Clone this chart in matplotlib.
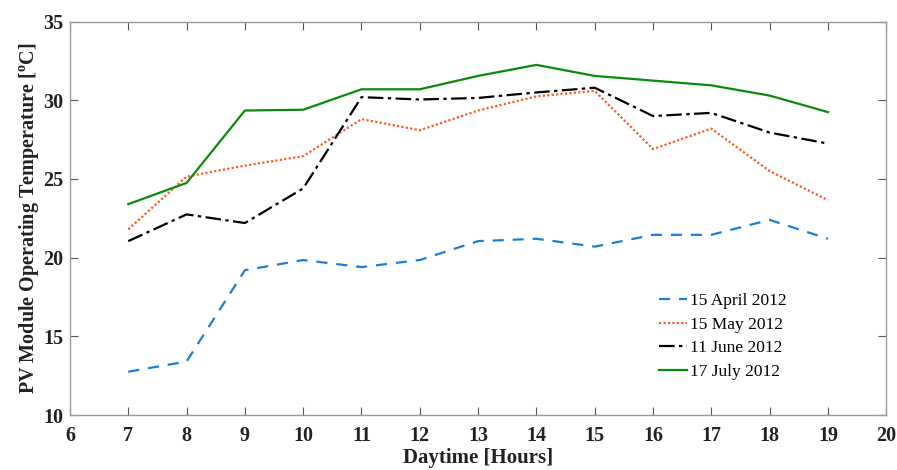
import matplotlib
matplotlib.use("Agg")
import matplotlib.pyplot as plt

# hourly module temperature readings
hours = [7, 8, 9, 10, 11, 12, 13, 14, 15, 16, 17, 18, 19]
april = [12.75, 13.4, 19.2, 19.85, 19.4, 19.85, 21.05, 21.2, 20.7, 21.45, 21.45, 22.4, 21.2]
may = [21.8, 25.15, 25.85, 26.45, 28.8, 28.1, 29.35, 30.25, 30.6, 26.9, 28.2, 25.5, 23.65]
june = [21.05, 22.75, 22.2, 24.4, 30.2, 30.05, 30.15, 30.5, 30.8, 29.0, 29.2, 27.95, 27.25]
july = [23.4, 24.75, 29.35, 29.4, 30.7, 30.7, 31.55, 32.25, 31.55, 31.25, 30.95, 30.3, 29.25]

labels = ["15 April 2012", "15 May 2012", "11 June 2012", "17 July 2012"]
xticks = list(range(6, 21))
yticks = [10, 15, 20, 25, 30, 35]

plt.rcParams['font.family'] = ['Liberation Serif', 'DejaVu Serif']

fig = plt.figure(figsize=(8.97, 4.70), dpi=100)
ax = fig.add_axes([0.078, 0.117, 0.910, 0.837])

ax.plot(hours, april, color='#1a7fd4', linestyle=(0, (5, 4)), linewidth=1.6, label=labels[0])
ax.plot(hours, may, color='#ff5a1f', linestyle=(0, (1, 1)), linewidth=1.6, label=labels[1])
ax.plot(hours, june, color='black', linestyle=(0, (7, 2, 1.5, 2)), linewidth=1.6, label=labels[2])
ax.plot(hours, july, color='#0a8a0a', linestyle='-', linewidth=1.6, label=labels[3])

ax.set_xlim(6, 20)
ax.set_ylim(10, 35)
ax.set_xticks(xticks)
ax.set_yticks(yticks)
ax.tick_params(direction='in', top=True, right=True, length=6, width=0.8,
               color='#555555', labelsize=14.5, labelcolor='#222222')
ax.tick_params(axis='x', pad=8)
ax.tick_params(axis='y', pad=5)
for lbl in ax.get_xticklabels() + ax.get_yticklabels():
    lbl.set_fontweight('bold')
for sp in ax.spines.values():
    sp.set_color('#999999')
    sp.set_linewidth(1.0)

ax.set_xlabel("Daytime [Hours]", fontsize=15, fontweight='bold', color='#222222', labelpad=1)
ax.set_ylabel("PV Module Operating Temperature [$^\\mathregular{o}$C]", fontsize=14.5,
              fontweight='bold', color='#222222', labelpad=1)

ax.legend(loc='lower left', bbox_to_anchor=(0.722, 0.09), frameon=False, fontsize=12.5,
          handlelength=1.6, handletextpad=0.15, labelspacing=0.42, borderaxespad=0,
          borderpad=0)

fig.savefig("out.png", dpi=100)
